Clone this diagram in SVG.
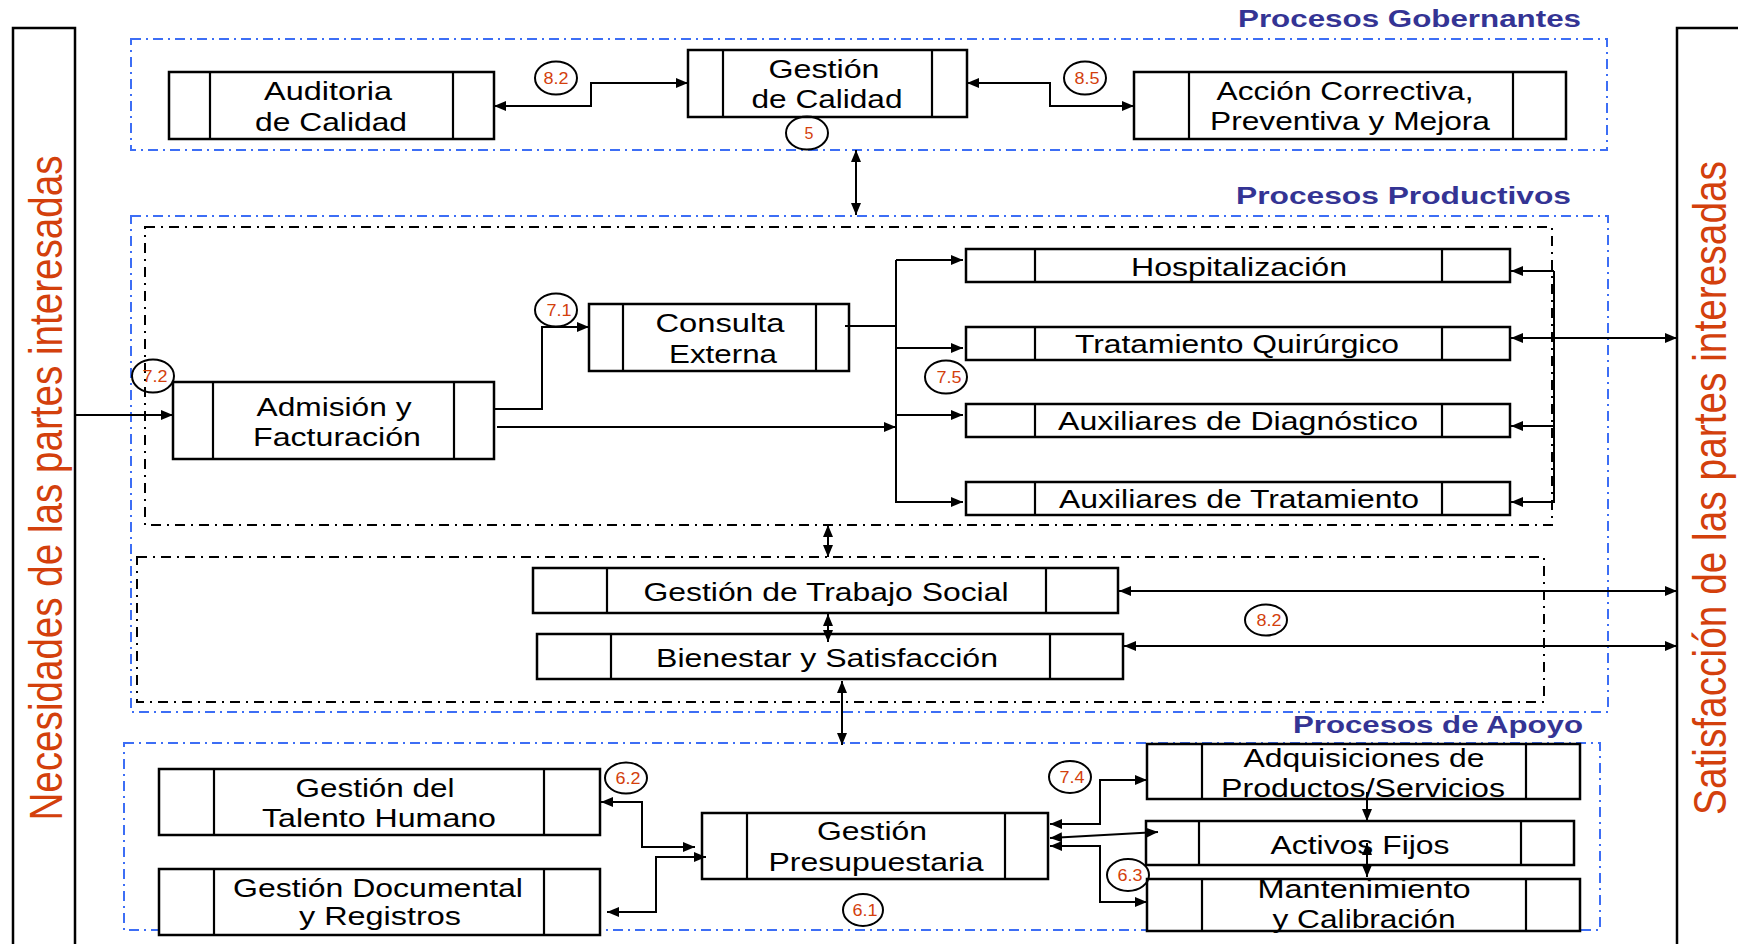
<svg xmlns="http://www.w3.org/2000/svg" width="1738" height="944" viewBox="0 0 1738 944">
  <defs>
    <style>
      .box { fill: #fff; stroke: #000; stroke-width: 2.5; }
      .sep { stroke: #000; stroke-width: 2.2; }
      .lbl { font-family: "Liberation Sans", Arial, sans-serif; font-size: 25px; fill: #000; text-anchor: middle; }
      .ttl { font-family: "Liberation Sans", Arial, sans-serif; font-size: 23px; font-weight: bold; fill: #343494; }
      .side { font-family: "Liberation Sans", Arial, sans-serif; font-size: 47px; fill: #D3400C; text-anchor: middle; }
      .num { font-family: "Liberation Sans", Arial, sans-serif; font-size: 16px; fill: #D3400C; text-anchor: middle; }
      .ring { fill: none; stroke: #000; stroke-width: 2; }
      .zone { fill: none; stroke: #3D6EF5; stroke-width: 2; stroke-dasharray: 10 5 2 5; }
      .sub { fill: none; stroke: #000; stroke-width: 2; stroke-dasharray: 10 6 2 6; }
      .wire { fill: none; stroke: #000; stroke-width: 2; }
      .frame { fill: #fff; stroke: #000; stroke-width: 2.5; }
    </style>
    <marker id="arw" viewBox="0 0 12 10" refX="12" refY="5" markerWidth="12" markerHeight="10" markerUnits="userSpaceOnUse" orient="auto-start-reverse">
      <path d="M0,0 L12,5 L0,10 z" fill="#000"/>
    </marker>
  </defs>

  <rect width="1738" height="944" fill="#fff"/>

  <!-- stakeholder columns -->
  <g id="necesidades">
    <rect class="frame" x="13" y="28" width="62" height="940"/>
    <text class="side" transform="translate(61.5,488) rotate(-90)" textLength="665" lengthAdjust="spacingAndGlyphs">Necesidades de las partes interesadas</text>
  </g>
  <g id="satisfaccion">
    <rect class="frame" x="1677" y="28" width="80" height="940"/>
    <text class="side" transform="translate(1726,488) rotate(-90)" textLength="654" lengthAdjust="spacingAndGlyphs">Satisfacción de las partes interesadas</text>
  </g>

  <!-- process zones -->
  <g id="zonas">
    <rect class="zone" x="131" y="39" width="1476" height="111"/>
    <rect class="zone" x="131" y="216" width="1477" height="496"/>
    <rect class="sub" x="145" y="227" width="1407" height="298"/>
    <rect class="sub" x="137" y="557" width="1407" height="145"/>
    <rect class="zone" x="124" y="743" width="1476" height="187"/>
    <text class="ttl" x="1238" y="27" textLength="343" lengthAdjust="spacingAndGlyphs">Procesos Gobernantes</text>
    <text class="ttl" x="1236" y="204" textLength="335" lengthAdjust="spacingAndGlyphs">Procesos Productivos</text>
    <text class="ttl" x="1293" y="733" textLength="290" lengthAdjust="spacingAndGlyphs">Procesos de Apoyo</text>
  </g>

  <!-- governing processes -->
  <g id="auditoria">
    <rect class="box" x="169" y="72" width="325" height="67"/>
    <line class="sep" x1="210" y1="72" x2="210" y2="139"/>
    <line class="sep" x1="453" y1="72" x2="453" y2="139"/>
    <text class="lbl" x="328" y="100" textLength="128" lengthAdjust="spacingAndGlyphs">Auditoria</text>
    <text class="lbl" x="331" y="131" textLength="152" lengthAdjust="spacingAndGlyphs">de Calidad</text>
  </g>
  <g id="gestion-calidad">
    <rect class="box" x="688" y="50" width="279" height="67"/>
    <line class="sep" x1="723" y1="50" x2="723" y2="117"/>
    <line class="sep" x1="932" y1="50" x2="932" y2="117"/>
    <text class="lbl" x="824" y="78" textLength="111" lengthAdjust="spacingAndGlyphs">Gestión</text>
    <text class="lbl" x="827" y="108" textLength="151" lengthAdjust="spacingAndGlyphs">de Calidad</text>
  </g>
  <g id="accion-correctiva">
    <rect class="box" x="1134" y="72" width="432" height="67"/>
    <line class="sep" x1="1189" y1="72" x2="1189" y2="139"/>
    <line class="sep" x1="1513" y1="72" x2="1513" y2="139"/>
    <text class="lbl" x="1345" y="100" textLength="257" lengthAdjust="spacingAndGlyphs">Acción Correctiva,</text>
    <text class="lbl" x="1350" y="130" textLength="280" lengthAdjust="spacingAndGlyphs">Preventiva y Mejora</text>
  </g>

  <!-- productive processes -->
  <g id="admision">
    <rect class="box" x="173" y="382" width="321" height="77"/>
    <line class="sep" x1="213" y1="382" x2="213" y2="459"/>
    <line class="sep" x1="454" y1="382" x2="454" y2="459"/>
    <text class="lbl" x="334" y="416" textLength="155" lengthAdjust="spacingAndGlyphs">Admisión y</text>
    <text class="lbl" x="337" y="446" textLength="168" lengthAdjust="spacingAndGlyphs">Facturación</text>
  </g>
  <g id="consulta-externa">
    <rect class="box" x="589" y="304" width="260" height="67"/>
    <line class="sep" x1="623" y1="304" x2="623" y2="371"/>
    <line class="sep" x1="816" y1="304" x2="816" y2="371"/>
    <text class="lbl" x="720" y="332" textLength="129" lengthAdjust="spacingAndGlyphs">Consulta</text>
    <text class="lbl" x="723" y="363" textLength="108" lengthAdjust="spacingAndGlyphs">Externa</text>
  </g>
  <g id="hospitalizacion">
    <rect class="box" x="966" y="249" width="544" height="33"/>
    <line class="sep" x1="1035" y1="249" x2="1035" y2="282"/>
    <line class="sep" x1="1442" y1="249" x2="1442" y2="282"/>
    <text class="lbl" x="1239" y="276" textLength="216" lengthAdjust="spacingAndGlyphs">Hospitalización</text>
  </g>
  <g id="tratamiento-quirurgico">
    <rect class="box" x="966" y="327" width="544" height="33"/>
    <line class="sep" x1="1035" y1="327" x2="1035" y2="360"/>
    <line class="sep" x1="1442" y1="327" x2="1442" y2="360"/>
    <text class="lbl" x="1237" y="353" textLength="324" lengthAdjust="spacingAndGlyphs">Tratamiento Quirúrgico</text>
  </g>
  <g id="auxiliares-diagnostico">
    <rect class="box" x="966" y="404" width="544" height="33"/>
    <line class="sep" x1="1035" y1="404" x2="1035" y2="437"/>
    <line class="sep" x1="1442" y1="404" x2="1442" y2="437"/>
    <text class="lbl" x="1238" y="430" textLength="360" lengthAdjust="spacingAndGlyphs">Auxiliares de Diagnóstico</text>
  </g>
  <g id="auxiliares-tratamiento">
    <rect class="box" x="966" y="482" width="544" height="33"/>
    <line class="sep" x1="1035" y1="482" x2="1035" y2="515"/>
    <line class="sep" x1="1442" y1="482" x2="1442" y2="515"/>
    <text class="lbl" x="1239" y="508" textLength="360" lengthAdjust="spacingAndGlyphs">Auxiliares de Tratamiento</text>
  </g>
  <g id="trabajo-social">
    <rect class="box" x="533" y="568" width="585" height="45"/>
    <line class="sep" x1="607" y1="568" x2="607" y2="613"/>
    <line class="sep" x1="1046" y1="568" x2="1046" y2="613"/>
    <text class="lbl" x="826" y="601" textLength="365" lengthAdjust="spacingAndGlyphs">Gestión de Trabajo Social</text>
  </g>
  <g id="bienestar">
    <rect class="box" x="537" y="634" width="586" height="45"/>
    <line class="sep" x1="611" y1="634" x2="611" y2="679"/>
    <line class="sep" x1="1050" y1="634" x2="1050" y2="679"/>
    <text class="lbl" x="827" y="667" textLength="342" lengthAdjust="spacingAndGlyphs">Bienestar y Satisfacción</text>
  </g>

  <!-- support processes -->
  <g id="talento-humano">
    <rect class="box" x="159" y="769" width="441" height="66"/>
    <line class="sep" x1="214" y1="769" x2="214" y2="835"/>
    <line class="sep" x1="544" y1="769" x2="544" y2="835"/>
    <text class="lbl" x="375" y="797" textLength="159" lengthAdjust="spacingAndGlyphs">Gestión del</text>
    <text class="lbl" x="379" y="827" textLength="234" lengthAdjust="spacingAndGlyphs">Talento Humano</text>
  </g>
  <g id="gestion-documental">
    <rect class="box" x="159" y="869" width="441" height="66"/>
    <line class="sep" x1="214" y1="869" x2="214" y2="935"/>
    <line class="sep" x1="544" y1="869" x2="544" y2="935"/>
    <text class="lbl" x="378" y="897" textLength="290" lengthAdjust="spacingAndGlyphs">Gestión Documental</text>
    <text class="lbl" x="380" y="925" textLength="162" lengthAdjust="spacingAndGlyphs">y Registros</text>
  </g>
  <g id="presupuestaria">
    <rect class="box" x="702" y="813" width="346" height="66"/>
    <line class="sep" x1="747" y1="813" x2="747" y2="879"/>
    <line class="sep" x1="1005" y1="813" x2="1005" y2="879"/>
    <text class="lbl" x="872" y="840" textLength="110" lengthAdjust="spacingAndGlyphs">Gestión</text>
    <text class="lbl" x="876" y="871" textLength="215" lengthAdjust="spacingAndGlyphs">Presupuestaria</text>
  </g>
  <g id="adquisiciones">
    <rect class="box" x="1147" y="744" width="433" height="55"/>
    <line class="sep" x1="1202" y1="744" x2="1202" y2="799"/>
    <line class="sep" x1="1526" y1="744" x2="1526" y2="799"/>
    <text class="lbl" x="1364" y="767" textLength="241" lengthAdjust="spacingAndGlyphs">Adquisiciones de</text>
    <text class="lbl" x="1363" y="797" textLength="284" lengthAdjust="spacingAndGlyphs">Productos/Servicios</text>
  </g>
  <g id="activos-fijos">
    <rect class="box" x="1146" y="821" width="428" height="44"/>
    <line class="sep" x1="1199" y1="821" x2="1199" y2="865"/>
    <line class="sep" x1="1521" y1="821" x2="1521" y2="865"/>
    <text class="lbl" x="1360" y="854" textLength="179" lengthAdjust="spacingAndGlyphs">Activos Fijos</text>
  </g>
  <g id="mantenimiento">
    <rect class="box" x="1147" y="879" width="433" height="52"/>
    <line class="sep" x1="1202" y1="879" x2="1202" y2="931"/>
    <line class="sep" x1="1526" y1="879" x2="1526" y2="931"/>
    <text class="lbl" x="1364" y="898" textLength="213" lengthAdjust="spacingAndGlyphs">Mantenimiento</text>
    <text class="lbl" x="1364" y="928" textLength="183" lengthAdjust="spacingAndGlyphs">y Calibración</text>
  </g>

  <!-- connectors, drawn above the process boxes -->
  <g id="conectores">
    <path class="wire" d="M494,106 H591 V83 H688" marker-start="url(#arw)" marker-end="url(#arw)"/>
    <path class="wire" d="M967,83 H1050 V106 H1134" marker-start="url(#arw)" marker-end="url(#arw)"/>
    <path class="wire" d="M856,150 V215" marker-start="url(#arw)" marker-end="url(#arw)"/>
    <path class="wire" d="M75,415 H173" marker-end="url(#arw)"/>
    <path class="wire" d="M494,409 H542 V327 H589" marker-end="url(#arw)"/>
    <path class="wire" d="M497,427 H896" marker-end="url(#arw)"/>
    <path class="wire" d="M845,326 H896"/>
    <path class="wire" d="M896,260 V503"/>
    <path class="wire" d="M896,260 H963" marker-end="url(#arw)"/>
    <path class="wire" d="M896,348 H963" marker-end="url(#arw)"/>
    <path class="wire" d="M896,415 H963" marker-end="url(#arw)"/>
    <path class="wire" d="M896,502 H963" marker-end="url(#arw)"/>
    <path class="wire" d="M1554,271 V503"/>
    <path class="wire" d="M1554,271 H1511" marker-end="url(#arw)"/>
    <path class="wire" d="M1511,338 H1677" marker-start="url(#arw)" marker-end="url(#arw)"/>
    <path class="wire" d="M1554,426 H1511" marker-end="url(#arw)"/>
    <path class="wire" d="M1554,502 H1511" marker-end="url(#arw)"/>
    <path class="wire" d="M828,525 V557" marker-start="url(#arw)" marker-end="url(#arw)"/>
    <path class="wire" d="M828,614 V642" marker-start="url(#arw)" marker-end="url(#arw)"/>
    <path class="wire" d="M1119,591 H1677" marker-start="url(#arw)" marker-end="url(#arw)"/>
    <path class="wire" d="M1124,646 H1677" marker-start="url(#arw)" marker-end="url(#arw)"/>
    <path class="wire" d="M842,681 V745" marker-start="url(#arw)" marker-end="url(#arw)"/>
    <path class="wire" d="M601,802 H642 V847 H695" marker-start="url(#arw)" marker-end="url(#arw)"/>
    <path class="wire" d="M607,912 H656 V857 H706" marker-start="url(#arw)" marker-end="url(#arw)"/>
    <path class="wire" d="M1050,824 H1100 V780 H1147" marker-start="url(#arw)" marker-end="url(#arw)"/>
    <path class="wire" d="M1050,838 L1158,832" marker-start="url(#arw)" marker-end="url(#arw)"/>
    <path class="wire" d="M1050,846 H1100 V902 H1147" marker-start="url(#arw)" marker-end="url(#arw)"/>
    <path class="wire" d="M1367,792 V821" marker-end="url(#arw)"/>
    <path class="wire" d="M1367,843 V877" marker-start="url(#arw)" marker-end="url(#arw)"/>
  </g>

  <!-- standard clause references -->
  <g id="referencias">
    <ellipse class="ring" cx="556" cy="78" rx="21" ry="16.5"/>
    <text class="num" x="556" y="84" textLength="25" lengthAdjust="spacingAndGlyphs">8.2</text>
    <ellipse class="ring" cx="807" cy="133" rx="21" ry="16.5"/>
    <text class="num" x="809" y="139">5</text>
    <ellipse class="ring" cx="1085" cy="78" rx="21" ry="16.5"/>
    <text class="num" x="1087" y="84" textLength="25" lengthAdjust="spacingAndGlyphs">8.5</text>
    <ellipse class="ring" cx="556" cy="310" rx="21" ry="16.5"/>
    <text class="num" x="559" y="316" textLength="25" lengthAdjust="spacingAndGlyphs">7.1</text>
    <ellipse class="ring" cx="153" cy="376" rx="21" ry="16.5"/>
    <text class="num" x="155" y="382" textLength="25" lengthAdjust="spacingAndGlyphs">7.2</text>
    <ellipse class="ring" cx="946" cy="377" rx="21" ry="16.5"/>
    <text class="num" x="949" y="383" textLength="25" lengthAdjust="spacingAndGlyphs">7.5</text>
    <ellipse class="ring" cx="1266" cy="620" rx="21" ry="15.5"/>
    <text class="num" x="1269" y="626" textLength="25" lengthAdjust="spacingAndGlyphs">8.2</text>
    <ellipse class="ring" cx="626" cy="778" rx="21" ry="15.5"/>
    <text class="num" x="628" y="784" textLength="25" lengthAdjust="spacingAndGlyphs">6.2</text>
    <ellipse class="ring" cx="1070" cy="777" rx="21" ry="16"/>
    <text class="num" x="1072" y="783" textLength="25" lengthAdjust="spacingAndGlyphs">7.4</text>
    <ellipse class="ring" cx="1128" cy="875" rx="21" ry="16"/>
    <text class="num" x="1130" y="881" textLength="25" lengthAdjust="spacingAndGlyphs">6.3</text>
    <ellipse class="ring" cx="863" cy="910" rx="20" ry="16"/>
    <text class="num" x="865" y="916" textLength="25" lengthAdjust="spacingAndGlyphs">6.1</text>
  </g>
</svg>
